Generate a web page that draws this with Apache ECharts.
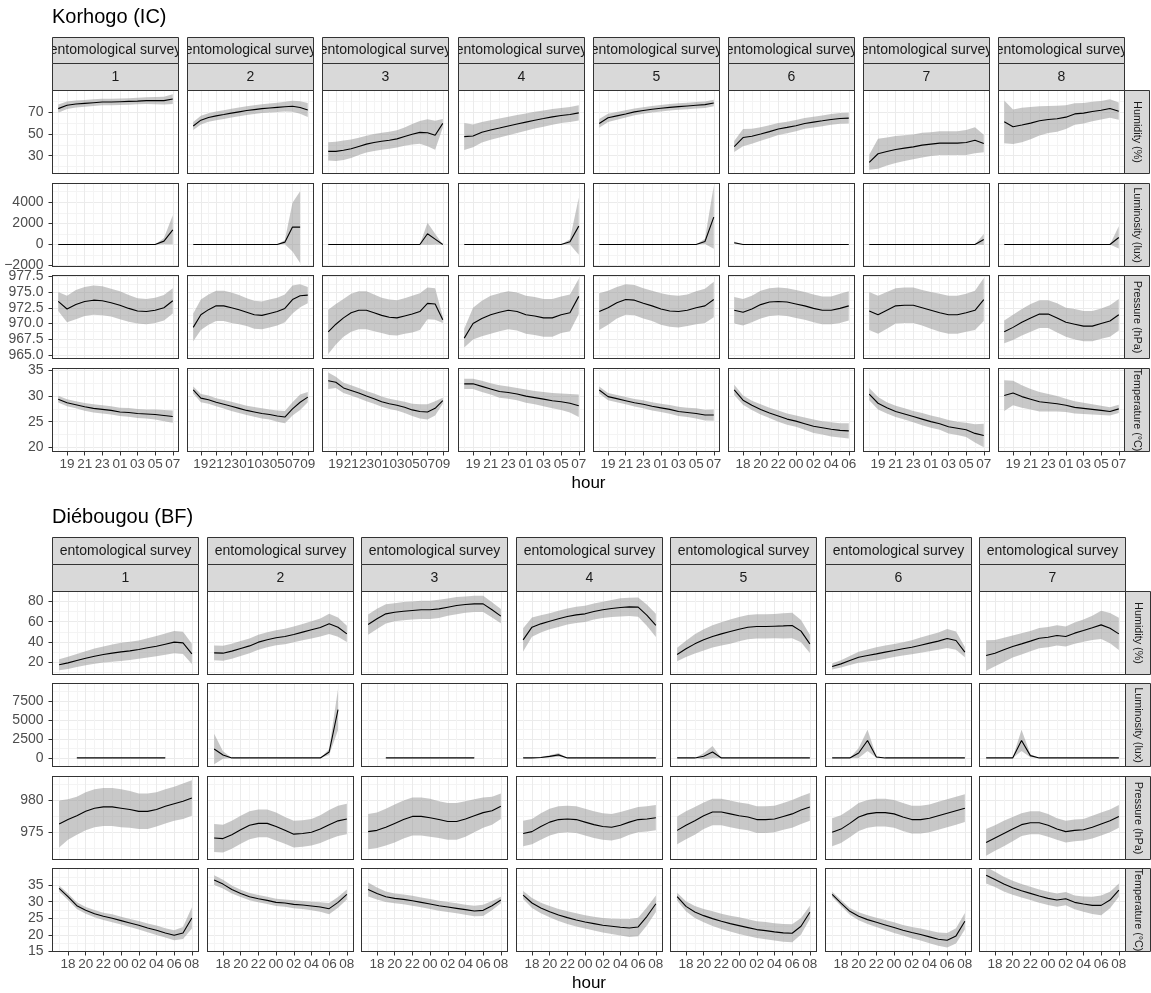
<!DOCTYPE html>
<html>
<head>
<meta charset="utf-8">
<title>Korhogo / Diébougou</title>
<script src="https://cdn.jsdelivr.net/npm/echarts@6/dist/echarts.min.js"></script>
<style>
  html, body { margin: 0; padding: 0; background: #fff; }
  #chart { width: 1151px; height: 993px; }
</style>
</head>
<body>
<div id="chart"></div>
<script>
// ---------------- data ----------------
const variables = ['Humidity (%)', 'Luminosity (lux)', 'Pressure (hPa)', 'Temperature (°C)']

// first hour of each survey night (hours after 24 continue: 25 = 01h ...)
const korStart = [18, 18, 18, 18, 18, 17, 18, 18]
const dieStart = [17, 17, 17, 17, 17, 17, 17]

// Korhogo (IC) - mean and half width of the grey ribbon
const korHumMean = [
  [73.6, 76.7, 77.9, 78.5, 79.1, 79.7, 79.7, 80.0, 80.3, 80.6, 81.0, 81.0, 81.0, 82.5],
  [57.5, 62.9, 65.4, 66.9, 68.1, 69.4, 70.6, 71.8, 72.7, 73.6, 74.2, 74.8, 75.4, 75.8, 74.6, 72.4],
  [34.0, 34.0, 35.0, 36.4, 38.6, 40.7, 42.2, 43.4, 44.3, 45.6, 47.7, 49.8, 51.6, 51.3, 48.9, 59.9],
  [47.7, 48.3, 51.7, 53.8, 55.6, 57.5, 59.3, 61.1, 62.9, 64.4, 66.0, 67.2, 68.1, 69.7],
  [59.9, 65.1, 66.9, 68.7, 70.6, 71.8, 73.0, 73.9, 74.8, 75.5, 76.1, 76.7, 77.3, 78.8],
  [38.5, 46.8, 48.0, 50.1, 52.3, 54.7, 56.2, 57.8, 59.9, 61.1, 62.3, 63.6, 64.5, 64.8],
  [23.9, 31.8, 33.9, 35.8, 37.0, 38.2, 39.8, 40.7, 41.6, 41.6, 41.6, 42.2, 44.3, 41.3],
  [61.4, 56.8, 58.4, 60.2, 62.3, 63.6, 64.2, 65.7, 68.7, 69.4, 70.9, 72.1, 73.7, 71.2]
]
const korHumSd = [
  [3.8, 3.5, 3.3, 3.2, 3.1, 3.0, 3.0, 3.0, 3.0, 3.0, 3.1, 3.3, 3.6, 4.5],
  [3.8, 4.0, 4.0, 4.0, 4.0, 4.0, 4.0, 4.0, 4.0, 4.0, 4.2, 4.3, 4.5, 5.0, 5.8, 6.5],
  [8.4, 9.0, 9.0, 8.5, 8.0, 7.8, 7.8, 7.8, 7.8, 8.0, 8.5, 9.5, 10.5, 12.5, 13.5, 4.0],
  [12.5, 10.5, 9.5, 9.0, 8.8, 8.5, 8.3, 8.0, 7.8, 7.5, 7.3, 7.0, 7.0, 7.0],
  [4.0, 3.8, 3.6, 3.4, 3.2, 3.0, 3.0, 3.0, 3.0, 3.0, 3.0, 3.0, 3.0, 3.0],
  [5.0, 8.0, 7.0, 6.2, 5.8, 5.5, 5.3, 5.2, 5.0, 5.0, 5.0, 5.0, 5.0, 5.0],
  [7.0, 14.0, 13.0, 12.5, 12.0, 11.5, 11.5, 11.0, 11.0, 11.0, 11.0, 11.5, 12.0, 8.0],
  [19.8, 16.0, 16.0, 15.0, 13.5, 12.5, 12.0, 11.0, 10.0, 9.5, 9.0, 8.5, 8.5, 8.0]
]
const korLumMean = [
  [0, 0, 0, 0, 0, 0, 0, 0, 0, 0, 0, 0, 316, 1390],
  [0, 0, 0, 0, 0, 0, 0, 0, 0, 0, 0, 0, 220, 1643, 1643, null],
  [0, 0, 0, 0, 0, 0, 0, 0, 0, 0, 0, 0, 0, 1014, 505, 0],
  [0, 0, 0, 0, 0, 0, 0, 0, 0, 0, 0, 0, 253, 1738],
  [0, 0, 0, 0, 0, 0, 0, 0, 0, 0, 0, 0, 284, 2590],
  [158, 0, 0, 0, 0, 0, 0, 0, 0, 0, 0, 0, 0, 0],
  [0, 0, 0, 0, 0, 0, 0, 0, 0, 0, 0, 0, 0, 474],
  [0, 0, 0, 0, 0, 0, 0, 0, 0, 0, 0, 0, 0, 664]
]
const korLumSd = [
  [0, 0, 0, 0, 0, 0, 0, 0, 0, 0, 0, 0, 300, 1380],
  [0, 0, 0, 0, 0, 0, 0, 0, 0, 0, 0, 0, 200, 2300, 3400, null],
  [0, 0, 0, 0, 0, 0, 0, 0, 0, 0, 0, 0, 0, 1050, 500, 0],
  [0, 0, 0, 0, 0, 0, 0, 0, 0, 0, 0, 0, 250, 2700],
  [0, 0, 0, 0, 0, 0, 0, 0, 0, 0, 0, 0, 250, 3000],
  [120, 0, 0, 0, 0, 0, 0, 0, 0, 0, 0, 0, 0, 0],
  [0, 0, 0, 0, 0, 0, 0, 0, 0, 0, 0, 0, 0, 520],
  [0, 0, 0, 0, 0, 0, 0, 0, 0, 0, 0, 0, 0, 1050]
]
const korPresMean = [
  [973.5, 972.3, 973.0, 973.5, 973.7, 973.6, 973.3, 972.9, 972.4, 972.0, 971.9, 972.1, 972.5, 973.6],
  [969.4, 971.4, 972.2, 972.8, 972.8, 972.5, 972.2, 971.8, 971.4, 971.3, 971.6, 971.9, 972.4, 973.8, 974.4, 974.5],
  [968.7, 969.9, 970.9, 971.7, 972.1, 972.1, 971.7, 971.3, 971.0, 970.9, 971.2, 971.5, 971.9, 973.2, 973.1, 970.6],
  [967.7, 970.0, 970.8, 971.4, 971.8, 972.1, 971.9, 971.4, 971.2, 970.9, 970.9, 971.4, 971.7, 974.3],
  [971.9, 972.5, 973.3, 973.8, 973.7, 973.2, 972.8, 972.3, 972.0, 971.9, 972.1, 972.5, 972.8, 973.8],
  [972.1, 971.8, 972.3, 973.0, 973.4, 973.5, 973.4, 973.1, 972.8, 972.4, 972.1, 972.1, 972.4, 972.8],
  [972.0, 971.4, 972.1, 972.8, 972.9, 972.9, 972.5, 972.1, 971.7, 971.4, 971.4, 971.7, 972.1, 973.8],
  [968.7, 969.4, 970.2, 970.9, 971.5, 971.5, 970.9, 970.2, 969.9, 969.6, 969.6, 970.0, 970.4, 971.4]
]
const korPresSd = [
  [1.5, 2.1, 2.3, 2.3, 2.3, 2.3, 2.2, 2.2, 2.1, 2.0, 2.0, 2.0, 2.0, 2.0],
  [2.2, 2.4, 2.4, 2.4, 2.4, 2.4, 2.3, 2.2, 2.2, 2.2, 2.2, 2.2, 2.2, 2.2, 1.8, 1.3],
  [3.5, 3.2, 3.0, 3.0, 3.0, 3.0, 2.9, 2.8, 2.8, 2.8, 2.8, 2.9, 2.9, 2.5, 2.5, 0.5],
  [1.5, 2.5, 2.8, 3.0, 3.0, 3.0, 3.0, 3.0, 3.0, 3.0, 3.0, 2.9, 2.9, 2.8],
  [2.9, 2.7, 2.5, 2.4, 2.4, 2.4, 2.4, 2.5, 2.5, 2.5, 2.5, 2.6, 2.7, 2.8],
  [2.1, 2.1, 2.1, 2.2, 2.2, 2.2, 2.2, 2.2, 2.2, 2.2, 2.2, 2.2, 2.3, 2.3],
  [3.0, 3.0, 2.9, 2.8, 2.8, 2.8, 2.8, 2.9, 3.0, 3.0, 3.0, 3.0, 3.1, 3.4],
  [1.8, 2.0, 2.1, 2.2, 2.2, 2.2, 2.3, 2.3, 2.4, 2.4, 2.4, 2.4, 2.5, 2.5]
]
const korTempMean = [
  [29.4, 28.7, 28.3, 27.9, 27.6, 27.4, 27.2, 26.9, 26.8, 26.6, 26.5, 26.4, 26.2, 26.0],
  [31.2, 29.6, 29.3, 28.8, 28.4, 28.0, 27.6, 27.2, 26.9, 26.6, 26.4, 26.1, 25.9, 27.5, 28.8, 29.8],
  [33.0, 32.7, 31.6, 31.1, 30.6, 30.0, 29.5, 28.9, 28.5, 28.2, 27.8, 27.3, 27.0, 26.9, 27.6, 29.1],
  [32.4, 32.4, 31.9, 31.4, 30.9, 30.7, 30.4, 30.0, 29.7, 29.4, 29.1, 28.9, 28.6, 28.1],
  [31.2, 29.9, 29.5, 29.1, 28.7, 28.4, 28.0, 27.7, 27.4, 27.0, 26.8, 26.6, 26.3, 26.3],
  [31.2, 29.2, 28.2, 27.4, 26.7, 26.1, 25.5, 25.1, 24.6, 24.1, 23.8, 23.5, 23.3, 23.2],
  [30.4, 28.6, 27.7, 27.0, 26.5, 26.0, 25.5, 25.0, 24.6, 24.0, 23.7, 23.4, 22.7, 22.3],
  [30.1, 30.6, 29.9, 29.4, 28.9, 28.7, 28.5, 28.2, 27.8, 27.6, 27.4, 27.2, 27.0, 27.5]
]
const korTempSd = [
  [0.65, 0.7, 0.7, 0.75, 0.8, 0.8, 0.8, 0.8, 0.85, 0.9, 0.9, 1.0, 1.1, 1.2],
  [0.7, 0.8, 0.8, 0.8, 0.85, 0.9, 0.9, 0.9, 0.95, 1.0, 1.0, 1.1, 1.2, 1.3, 1.5, 1.0],
  [1.6, 1.1, 1.0, 1.0, 1.0, 1.0, 1.0, 1.0, 1.0, 1.0, 1.1, 1.2, 1.4, 1.5, 1.4, 0.6],
  [1.0, 1.0, 1.1, 1.1, 1.2, 1.2, 1.2, 1.3, 1.3, 1.4, 1.5, 1.6, 1.8, 2.2],
  [0.7, 0.7, 0.7, 0.7, 0.75, 0.8, 0.8, 0.8, 0.85, 0.9, 0.9, 1.0, 1.05, 1.1],
  [1.0, 0.9, 0.9, 1.0, 1.0, 1.1, 1.1, 1.1, 1.2, 1.3, 1.3, 1.4, 1.4, 1.5],
  [1.2, 1.2, 1.1, 1.1, 1.1, 1.1, 1.2, 1.2, 1.2, 1.3, 1.3, 1.4, 1.8, 2.3],
  [3.0, 2.4, 2.2, 2.0, 1.9, 1.7, 1.5, 1.3, 1.2, 1.1, 1.0, 0.9, 0.8, 0.8]
]

// Diébougou (BF)
const dieHumMean = [
  [17.4, 19.3, 21.6, 23.9, 25.9, 27.6, 28.9, 30.2, 31.2, 32.5, 34.2, 35.8, 37.8, 39.8, 39.1, 28.2],
  [29.2, 28.9, 30.9, 33.5, 36.1, 39.8, 42.1, 44.1, 45.4, 47.4, 49.7, 52.0, 54.3, 57.9, 54.6, 48.0],
  [57.2, 62.9, 67.8, 69.4, 70.4, 71.1, 71.8, 71.8, 72.7, 74.4, 76.0, 77.0, 77.7, 77.7, 71.8, 65.5],
  [42.1, 54.6, 57.9, 60.5, 62.9, 65.2, 66.8, 67.8, 70.1, 71.8, 73.1, 74.1, 74.7, 74.4, 66.2, 56.3],
  [27.6, 33.2, 38.1, 42.1, 45.4, 48.0, 50.3, 52.6, 54.6, 55.3, 55.3, 55.6, 55.9, 56.3, 50.7, 38.1],
  [15.7, 18.3, 21.6, 24.9, 26.6, 28.2, 29.9, 31.5, 33.2, 34.8, 36.8, 38.8, 40.8, 43.4, 41.4, 29.9],
  [26.6, 28.9, 32.2, 35.5, 38.1, 40.8, 43.7, 44.7, 46.4, 45.4, 48.7, 51.3, 54.0, 56.9, 53.6, 48.0]
]
const dieHumSd = [
  [5.5, 6.0, 6.5, 7.0, 7.5, 8.0, 8.5, 9.0, 9.0, 9.0, 9.5, 10.0, 10.5, 11.0, 11.0, 10.0],
  [7.4, 7.4, 7.4, 7.4, 7.4, 7.4, 7.4, 7.4, 7.6, 7.8, 8.0, 8.5, 9.0, 10.0, 9.5, 8.0],
  [10.0, 10.0, 9.5, 9.0, 9.0, 9.0, 9.0, 9.0, 9.0, 8.5, 8.5, 8.0, 8.0, 8.0, 7.5, 7.0],
  [11.5, 9.5, 8.5, 8.0, 8.0, 8.0, 8.0, 8.0, 8.0, 8.0, 8.5, 9.0, 9.0, 9.5, 10.5, 11.5],
  [6.6, 8.0, 9.5, 10.5, 11.0, 11.5, 12.0, 12.0, 12.0, 12.0, 12.0, 12.0, 12.5, 12.7, 11.0, 9.0],
  [3.0, 3.5, 4.5, 5.5, 6.0, 6.5, 6.5, 6.5, 6.5, 7.0, 7.5, 8.0, 8.5, 9.5, 9.0, 5.0],
  [15.0, 13.0, 12.0, 11.0, 10.5, 10.0, 10.0, 10.0, 10.0, 10.0, 10.5, 11.0, 12.0, 14.0, 15.0, 16.0]
]
const dieLumMean = [
  [null, null, 0, 0, 0, 0, 0, 0, 0, 0, 0, 0, 0, null, null, null],
  [1170, 390, 0, 0, 0, 0, 0, 0, 0, 0, 0, 0, 0, 780, 6372, null],
  [null, null, 0, 0, 0, 0, 0, 0, 0, 0, 0, 0, 0, null, null, null],
  [0, 0, 60, 200, 400, 0, 0, 0, 0, 0, 0, 0, 0, 0, 0, 0],
  [0, 0, 0, 217, 780, 0, 0, 0, 0, 0, 0, 0, 0, 0, 0, 0],
  [0, 0, 0, 650, 2300, 130, 0, 0, 0, 0, 0, 0, 0, 0, 0, 0],
  [0, 0, 0, 0, 2300, 300, 0, 0, 0, 0, 0, 0, 0, 0, 0, 0]
]
const dieLumSd = [
  [null, null, 0, 0, 0, 0, 0, 0, 0, 0, 0, 0, 0, null, null, null],
  [2000, 500, 0, 0, 0, 0, 0, 0, 0, 0, 0, 0, 0, 400, 2700, null],
  [null, null, 0, 0, 0, 0, 0, 0, 0, 0, 0, 0, 0, null, null, null],
  [0, 0, 60, 150, 250, 0, 0, 0, 0, 0, 0, 0, 0, 0, 0, 0],
  [0, 0, 0, 400, 800, 0, 0, 0, 0, 0, 0, 0, 0, 0, 0, 0],
  [0, 0, 0, 650, 1400, 100, 0, 0, 0, 0, 0, 0, 0, 0, 0, 0],
  [0, 0, 0, 0, 1400, 200, 0, 0, 0, 0, 0, 0, 0, 0, 0, 0]
]
const diePresMean = [
  [976.3, 977.0, 977.6, 978.3, 978.8, 979.0, 979.0, 978.8, 978.6, 978.3, 978.3, 978.6, 979.1, 979.5, 979.9, 980.4],
  [974.1, 974.0, 974.6, 975.4, 976.1, 976.4, 976.4, 975.9, 975.3, 974.7, 974.8, 975.0, 975.5, 976.2, 976.8, 977.1],
  [975.1, 975.3, 975.8, 976.4, 977.0, 977.5, 977.5, 977.3, 977.0, 976.7, 976.7, 977.1, 977.6, 978.1, 978.4, 979.1],
  [974.8, 975.1, 975.9, 976.6, 977.0, 977.1, 977.0, 976.6, 976.2, 975.9, 975.8, 976.1, 976.6, 977.0, 977.1, 977.3],
  [975.3, 976.1, 976.8, 977.6, 978.2, 978.2, 977.9, 977.6, 977.4, 977.0, 977.0, 977.1, 977.5, 977.9, 978.5, 979.0],
  [975.0, 975.5, 976.4, 977.4, 977.9, 978.1, 978.1, 977.9, 977.4, 977.0, 977.0, 977.2, 977.6, 978.0, 978.4, 978.8],
  [973.4, 974.1, 974.8, 975.5, 976.2, 976.5, 976.5, 976.1, 975.5, 975.1, 975.3, 975.4, 975.8, 976.3, 976.8, 977.5]
]
const diePresSd = [
  [3.7, 3.2, 3.0, 3.0, 3.0, 3.0, 3.0, 3.0, 2.9, 2.8, 2.8, 2.7, 2.7, 2.7, 2.8, 2.8],
  [2.2, 2.2, 2.2, 2.2, 2.2, 2.2, 2.2, 2.2, 2.1, 2.1, 2.1, 2.1, 2.2, 2.3, 2.4, 2.4],
  [2.8, 2.8, 2.9, 3.0, 3.0, 3.0, 3.0, 3.0, 2.9, 2.9, 2.9, 2.8, 2.6, 2.4, 2.2, 2.0],
  [2.0, 2.0, 2.1, 2.1, 2.1, 2.1, 2.1, 2.1, 2.1, 2.1, 2.1, 2.1, 2.0, 2.0, 2.0, 2.0],
  [2.2, 2.2, 2.2, 2.1, 2.1, 2.1, 2.1, 2.1, 2.1, 2.1, 2.1, 2.1, 2.1, 2.2, 2.2, 2.2],
  [2.2, 2.2, 2.2, 2.2, 2.2, 2.2, 2.2, 2.2, 2.2, 2.2, 2.2, 2.2, 2.2, 2.2, 2.2, 2.2],
  [2.1, 2.0, 2.0, 1.9, 1.8, 1.8, 1.8, 1.8, 1.7, 1.7, 1.7, 1.7, 1.8, 1.8, 1.8, 1.8]
]
const dieTempMean = [
  [34.0, 31.5, 28.8, 27.4, 26.4, 25.6, 25.0, 24.3, 23.6, 22.9, 22.1, 21.4, 20.6, 19.9, 20.6, 25.1],
  [36.5, 35.3, 33.7, 32.5, 31.5, 30.9, 30.4, 29.8, 29.6, 29.2, 29.0, 28.7, 28.4, 27.9, 29.8, 32.2],
  [33.7, 32.5, 31.5, 31.0, 30.7, 30.3, 29.8, 29.3, 28.8, 28.4, 28.0, 27.6, 27.2, 27.4, 28.8, 30.5],
  [32.0, 29.6, 28.1, 27.0, 26.0, 25.2, 24.5, 23.9, 23.4, 22.9, 22.6, 22.3, 22.1, 22.4, 25.6, 29.4],
  [31.5, 28.6, 26.9, 25.8, 24.9, 24.1, 23.4, 22.8, 22.2, 21.6, 21.3, 20.9, 20.6, 20.5, 22.6, 26.8],
  [32.2, 29.6, 27.1, 25.6, 24.6, 23.8, 23.0, 22.2, 21.4, 20.7, 20.1, 19.4, 18.7, 18.4, 19.7, 24.1],
  [38.0, 36.7, 35.3, 34.2, 33.3, 32.5, 31.7, 31.0, 30.5, 30.9, 29.8, 29.3, 28.9, 28.9, 30.5, 33.5]
]
const dieTempSd = [
  [0.9, 1.0, 1.0, 1.0, 1.1, 1.1, 1.2, 1.2, 1.2, 1.3, 1.3, 1.4, 1.4, 1.5, 1.8, 3.2],
  [1.5, 1.3, 1.2, 1.1, 1.1, 1.1, 1.1, 1.1, 1.1, 1.2, 1.2, 1.3, 1.4, 1.7, 1.6, 1.5],
  [2.1, 1.8, 1.6, 1.5, 1.5, 1.5, 1.5, 1.5, 1.5, 1.5, 1.5, 1.5, 1.6, 1.7, 1.4, 1.0],
  [1.2, 1.5, 1.6, 1.7, 1.8, 1.9, 2.0, 2.0, 2.1, 2.2, 2.3, 2.5, 2.7, 2.8, 2.7, 2.5],
  [1.2, 1.5, 1.8, 2.0, 2.2, 2.3, 2.4, 2.5, 2.5, 2.5, 2.6, 2.6, 2.7, 2.7, 2.5, 2.0],
  [0.8, 0.9, 1.0, 1.2, 1.3, 1.4, 1.5, 1.6, 1.6, 1.7, 1.8, 1.9, 2.0, 2.2, 2.3, 2.5],
  [2.5, 2.3, 2.2, 2.1, 2.0, 2.0, 2.0, 2.0, 2.0, 2.0, 2.1, 2.3, 2.6, 3.0, 2.5, 2.0]
]

// y scales, one per row (shared across columns)
const korYLim = [[13.5, 90.4], [-2085, 5772], [964.48, 977.6], [19.16, 35.4]]
const korYMajor = [[30, 50, 70], [-2000, 0, 2000, 4000], [965, 967.5, 970, 972.5, 975, 977.5], [20, 25, 30, 35]]
const korYMinor = [[20, 40, 60, 80], [-1000, 1000, 3000, 5000], [966.25, 968.75, 971.25, 973.75, 976.25], [22.5, 27.5, 32.5]]
const korYDigits = [0, 0, 1, 0]
const dieYLim = [[7.8, 89.9], [-1130, 9805], [970.7, 983.8], [15, 40]]
const dieYMajor = [[20, 40, 60, 80], [0, 2500, 5000, 7500], [975, 980], [15, 20, 25, 30, 35]]
const dieYMinor = [[10, 30, 50, 70], [1250, 3750, 6250, 8750], [972.5, 977.5, 982.5], [17.5, 22.5, 27.5, 32.5, 37.5]]
const dieYDigits = [0, 0, 0, 0]

// ---------------- layout ----------------
const FONT = '"Liberation Sans", Arial, Helvetica, sans-serif'
const BAND = 'rgba(145,145,145,0.5)'
const FRAME = '#333333'

const sections = [
  {
    name: 'Korhogo (IC)', start: korStart,
    vars: [[korHumMean, korHumSd], [korLumMean, korLumSd], [korPresMean, korPresSd], [korTempMean, korTempSd]],
    yLim: korYLim, yMajor: korYMajor, yMinor: korYMinor, yDigits: korYDigits,
    lay: { titleY: 17, strip1: 37.5, strip1H: 26, strip2H: 27, left0: 52.5, pitchX: 135.2, width: 126, top0: 90.5, pitchY: 92.6, height: 83, hourY: 483 }
  },
  {
    name: 'Diébougou (BF)', start: dieStart,
    vars: [[dieHumMean, dieHumSd], [dieLumMean, dieLumSd], [diePresMean, diePresSd], [dieTempMean, dieTempSd]],
    yLim: dieYLim, yMajor: dieYMajor, yMinor: dieYMinor, yDigits: dieYDigits,
    lay: { titleY: 517, strip1: 537.5, strip1H: 27, strip2H: 27, left0: 52.5, pitchX: 154.55, width: 146, top0: 591.5, pitchY: 92.3, height: 83, hourY: 983 }
  }
]

function hourLabel(v) {
  const h = ((Math.round(v) % 24) + 24) % 24
  return (h < 10 ? '0' : '') + h
}

function numLabel(d) {
  return v => v.toFixed(d).replace('-', '\u2212')
}

function bandRenderer(pts) {
  return function (params, api) {
    if (params.dataIndex !== 0 || pts.length < 2) return
    const upper = pts.map(d => api.coord([d[0], d[2]]))
    const lower = pts.map(d => api.coord([d[0], d[1]])).reverse()
    return {
      type: 'polygon',
      shape: { points: upper.concat(lower) },
      style: { fill: BAND },
      silent: true
    }
  }
}

const grids = []
const xAxes = []
const yAxes = []
const series = []
const strips = []
const texts = []

sections.forEach(sec => {
  const L = sec.lay
  const nCol = sec.start.length
  const lastLeft = L.left0 + Math.round((nCol - 1) * L.pitchX)
  texts.push({
    type: 'text', x: L.left0 - 0.5, y: L.titleY, silent: true,
    style: { text: sec.name, font: '20px ' + FONT, fill: '#000000', textAlign: 'left', textVerticalAlign: 'middle' }
  })
  texts.push({
    type: 'text', x: (L.left0 + lastLeft + L.width) / 2, y: L.hourY, silent: true,
    style: { text: 'hour', font: '17px ' + FONT, fill: '#000000', textAlign: 'center', textVerticalAlign: 'middle' }
  })

  for (let c = 0; c < nCol; c++) {
    const left = L.left0 + Math.round(c * L.pitchX)
    strips.push({ x: left, y: L.strip1, w: L.width, h: L.strip1H, text: 'entomological survey', rot: 0, size: 14 })
    strips.push({ x: left, y: L.strip1 + L.strip1H, w: L.width, h: L.strip2H, text: String(c + 1), rot: 0, size: 14 })

    const start = sec.start[c]
    const hours = sec.vars[0][0][c].map((_, k) => start + k)
    const end = hours[hours.length - 1]
    const pad = (end - start) * 0.05
    const xMin = start - pad
    const xMax = end + pad
    const xMajor = hours.filter(h => (h - start) % 2 === 1)
    const xMinor = hours.filter(h => (h - start) % 2 === 0)

    for (let r = 0; r < 4; r++) {
      const top = L.top0 + Math.round(r * L.pitchY)
      grids.push({
        left: left, top: top, width: L.width, height: L.height,
        show: true, borderColor: FRAME, borderWidth: 1, borderType: 'solid', backgroundColor: '#FFFFFF',
        containLabel: false, outerBoundsMode: 'none'
      })
      const gi = grids.length - 1
      const bottomRow = r === 3
      const firstCol = c === 0
      const frameLine = { show: true, onZero: false, lineStyle: { color: FRAME, width: 1, type: 'solid' } }

      xAxes.push({
        gridIndex: gi, type: 'value', min: xMin, max: xMax, position: 'bottom',
        axisLine: frameLine,
        axisTick: { show: bottomRow, customValues: xMajor, length: 4, lineStyle: { color: FRAME, width: 1 } },
        axisLabel: {
          show: bottomRow, customValues: xMajor, formatter: hourLabel, color: '#4D4D4D',
          fontSize: 13.5, fontFamily: FONT, margin: 6, showMinLabel: true, showMaxLabel: true, hideOverlap: false
        },
        splitLine: { show: true, lineStyle: { color: '#EBEBEB', width: 1 } }
      })
      xAxes.push({
        gridIndex: gi, type: 'value', min: xMin, max: xMax, position: 'top',
        axisLine: frameLine,
        axisTick: { show: false, customValues: xMinor },
        axisLabel: { show: false, customValues: xMinor },
        splitLine: { show: true, lineStyle: { color: '#F4F4F4', width: 1 } }
      })
      yAxes.push({
        gridIndex: gi, type: 'value', min: sec.yLim[r][0], max: sec.yLim[r][1], position: 'left',
        axisLine: frameLine,
        axisTick: { show: firstCol, customValues: sec.yMajor[r], length: 4, lineStyle: { color: FRAME, width: 1 } },
        axisLabel: {
          show: firstCol, customValues: sec.yMajor[r], formatter: numLabel(sec.yDigits[r]), color: '#4D4D4D',
          fontSize: 14, fontFamily: FONT, margin: 9, showMinLabel: true, showMaxLabel: true, hideOverlap: false
        },
        splitLine: { show: true, lineStyle: { color: '#EBEBEB', width: 1 } }
      })
      yAxes.push({
        gridIndex: gi, type: 'value', min: sec.yLim[r][0], max: sec.yLim[r][1], position: 'right',
        axisLine: frameLine,
        axisTick: { show: false, customValues: sec.yMinor[r] },
        axisLabel: { show: false, customValues: sec.yMinor[r] },
        splitLine: { show: true, lineStyle: { color: '#F4F4F4', width: 1 } }
      })

      const mean = sec.vars[r][0][c]
      const sd = sec.vars[r][1][c]
      const pts = []
      hours.forEach((h, k) => {
        if (mean[k] != null) pts.push([h, mean[k] - sd[k], mean[k] + sd[k]])
      })
      series.push({
        type: 'custom', xAxisIndex: 2 * gi, yAxisIndex: 2 * gi, clip: true, silent: true, z: 2,
        data: pts, renderItem: bandRenderer(pts)
      })
      series.push({
        type: 'line', xAxisIndex: 2 * gi, yAxisIndex: 2 * gi, silent: true, z: 3,
        data: hours.map((h, k) => [h, mean[k]]),
        symbol: 'none', showSymbol: false, connectNulls: false,
        lineStyle: { color: '#000000', width: 1.1 }
      })

      if (c === nCol - 1) {
        strips.push({ x: left + L.width, y: top, w: 25, h: L.height, text: variables[r], rot: -Math.PI / 2, size: 10.8 })
      }
    }
  }
})

// facet strips (grey boxes, labels clipped to the box as in ggplot)
series.push({
  type: 'custom', coordinateSystem: 'none', silent: true, z: 5,
  data: strips.map((s, i) => i),
  renderItem: function (params) {
    const s = strips[params.dataIndex]
    return {
      type: 'group',
      children: [
        { type: 'rect', shape: { x: s.x, y: s.y, width: s.w, height: s.h }, style: { fill: '#D9D9D9', stroke: FRAME, lineWidth: 1 } },
        {
          type: 'group',
          clipPath: { type: 'rect', shape: { x: s.x + 0.5, y: s.y + 0.5, width: s.w - 1, height: s.h - 1 } },
          children: [{
            type: 'text', x: s.x + s.w / 2, y: s.y + s.h / 2, rotation: s.rot,
            style: { text: s.text, font: s.size + 'px ' + FONT, fill: '#1A1A1A', align: 'center', verticalAlign: 'middle' }
          }]
        }
      ]
    }
  }
})

const myChart = echarts.init(document.getElementById('chart'))
myChart.setOption({
  backgroundColor: '#FFFFFF',
  animation: false,
  grid: grids,
  xAxis: xAxes,
  yAxis: yAxes,
  graphic: { elements: texts },
  series: series
})
</script>
</body>
</html>
